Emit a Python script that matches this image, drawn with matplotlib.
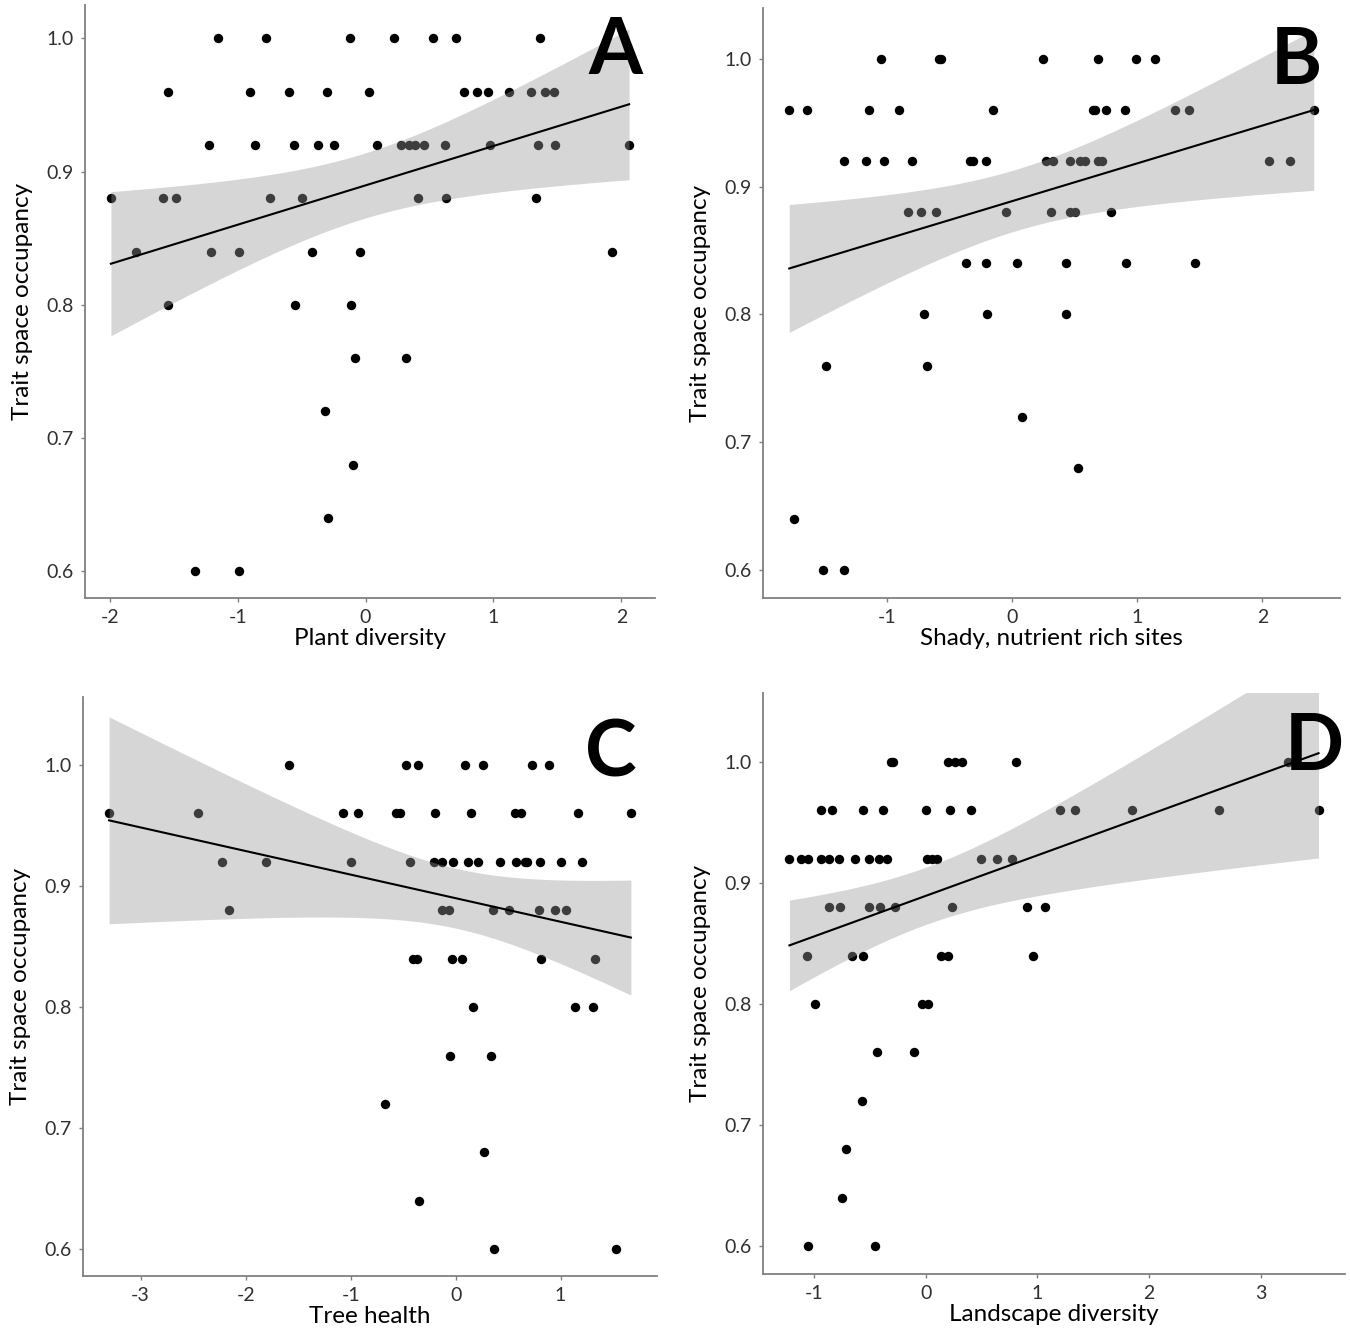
import numpy as np
import matplotlib
matplotlib.use("Agg")
import matplotlib.pyplot as plt

plt.rcParams['font.family'] = ['Lato', 'DejaVu Sans']

# panel A: plant diversity
a_x = [-1.15, -0.78, -0.12, 0.22, 0.53, 0.71, 1.36,
       -1.54, -0.90, -0.60, -0.30, 0.03, 0.77, 0.87, 0.96, 1.12, 1.29, 1.40, 1.47,
       -1.22, -0.86, -0.56, -0.37, -0.25, 0.09, 0.28, 0.34, 0.39, 0.46, 0.62, 0.97, 1.35, 1.48, 2.06,
       -1.99, -1.58, -1.48, -0.75, -0.50, 0.41, 0.63, 1.33,
       -1.79, -1.21, -0.99, -0.42, -0.04, 1.93,
       -1.54, -0.55, -0.11,
       -0.08, 0.32, -0.32, -0.10, -0.29, -1.33, -0.99]
a_y = [1.00] * 7 + [0.96] * 12 + [0.92] * 15 + [0.88] * 8 + [0.84] * 6 + [0.80] * 3 + \
      [0.76, 0.76, 0.72, 0.68, 0.64, 0.60, 0.60]

# panel B: shady, nutrient rich sites
b_x = [-1.05, -0.58, -0.57, 0.25, 0.69, 0.99, 1.14,
       -1.78, -1.64, -1.14, -0.90, -0.15, 0.65, 0.66, 0.75, 0.90, 1.30, 1.41, 2.41,
       -1.34, -1.17, -1.02, -0.80, -0.34, -0.31, -0.21, 0.27, 0.33, 0.46, 0.54, 0.58, 0.69, 0.72, 2.05, 2.22,
       -0.83, -0.73, -0.61, -0.05, 0.31, 0.46, 0.50, 0.79,
       -0.37, -0.21, 0.04, 0.43, 0.91, 1.46,
       -0.70, -0.20, 0.43,
       -1.49, -0.68, 0.08, 0.53, -1.74, -1.51, -1.34]
b_y = [1.00] * 7 + [0.96] * 12 + [0.92] * 16 + [0.88] * 8 + [0.84] * 6 + [0.80] * 3 + \
      [0.76, 0.76, 0.72, 0.68, 0.64, 0.60, 0.60]

# panel C: tree health
c_x = [-1.59, -0.47, -0.36, 0.09, 0.26, 0.73, 0.89,
       -3.30, -2.45, -1.07, -0.93, -0.57, -0.53, -0.20, 0.15, 0.57, 0.62, 1.17, 1.67,
       -2.22, -1.81, -1.00, -0.43, -0.21, -0.13, -0.02, 0.12, 0.21, 0.42, 0.58, 0.66, 0.68, 0.80, 1.00, 1.20,
       -2.16, -0.13, -0.06, 0.36, 0.51, 0.79, 0.95, 1.05,
       -0.41, -0.37, -0.03, 0.06, 0.81, 1.33,
       0.17, 1.14, 1.31,
       -0.05, 0.34, -0.67, 0.27, -0.35, 0.37, 1.53]
c_y = [1.00] * 7 + [0.96] * 12 + [0.92] * 16 + [0.88] * 8 + [0.84] * 6 + [0.80] * 3 + \
      [0.76, 0.76, 0.72, 0.68, 0.64, 0.60, 0.60]

# panel D: landscape diversity
d_x = [-0.31, -0.29, 0.20, 0.26, 0.33, 0.81, 3.25,
       -0.94, -0.84, -0.56, -0.38, 0.00, 0.22, 0.41, 1.20, 1.34, 1.85, 2.63, 3.52,
       -1.22, -1.12, -1.05, -0.94, -0.87, -0.78, -0.63, -0.51, -0.42, -0.35, 0.01, 0.06, 0.10, 0.50, 0.64, 0.77,
       -0.87, -0.77, -0.51, -0.41, -0.27, 0.24, 0.91, 1.07,
       -1.06, -0.66, -0.56, 0.14, 0.20, 0.96,
       -0.99, -0.03, 0.02,
       -0.44, -0.10, -0.57, -0.71, -0.75, -1.05, -0.45]
d_y = [1.00] * 7 + [0.96] * 12 + [0.92] * 16 + [0.88] * 8 + [0.84] * 6 + [0.80] * 3 + \
      [0.76, 0.76, 0.72, 0.68, 0.64, 0.60, 0.60]

panels = [
    ("A", a_x, a_y, "Plant diversity", [-2, -1, 0, 1, 2], (0.580, 1.025), (85, 655, 5, 598), (0.93, 0.92)),
    ("B", b_x, b_y, "Shady, nutrient rich sites", [-1, 0, 1, 2], (0.578, 1.040), (763, 1340, 8, 598), (0.925, 0.908)),
    ("C", c_x, c_y, "Tree health", [-3, -2, -1, 0, 1], (0.578, 1.056), (83, 657, 697, 1276), (0.92, 0.90)),
    ("D", d_x, d_y, "Landscape diversity", [-1, 0, 1, 2, 3], (0.577, 1.057), (763, 1345, 693, 1274), (0.947, 0.905)),
]

W, H = 1350, 1337
fig = plt.figure(figsize=(W / 100, H / 100), dpi=100)
T_CRIT = 2.0  # ~t(0.975, n-2) for about 60 sites

for letter, xs, ys, xlabel, xticks, ylim, box, lpos in panels:
    l, r, t, b = box
    ax = fig.add_axes([l / W, 1 - b / H, (r - l) / W, (b - t) / H])
    x = np.array(xs)
    y = np.array(ys)
    ax.scatter(x, y, s=46, color="black", linewidths=0, zorder=2)

    # linear fit with 95% confidence band (like geom_smooth(method="lm"))
    slope, icept = np.polyfit(x, y, 1)
    n = len(x)
    resid = y - (icept + slope * x)
    s = np.sqrt(np.sum(resid ** 2) / (n - 2))
    xm = x.mean()
    sxx = np.sum((x - xm) ** 2)
    xg = np.linspace(x.min(), x.max(), 80)
    yg = icept + slope * xg
    se = s * np.sqrt(1 / n + (xg - xm) ** 2 / sxx)
    ax.fill_between(xg, yg - T_CRIT * se, yg + T_CRIT * se, color="#999999", alpha=0.4,
                    linewidth=0, zorder=3)
    ax.plot(xg, yg, color="black", linewidth=1.5, zorder=4)

    span = x.max() - x.min()
    ax.set_xlim(x.min() - 0.05 * span, x.max() + 0.05 * span)
    ax.set_ylim(*ylim)
    ax.set_xticks(xticks)
    ax.set_xticklabels([str(v) for v in xticks])
    ax.set_yticks([0.6, 0.7, 0.8, 0.9, 1.0])
    ax.set_yticklabels(["0.6", "0.7", "0.8", "0.9", "1.0"])
    for side in ["top", "right"]:
        ax.spines[side].set_visible(False)
    for side in ["left", "bottom"]:
        ax.spines[side].set_color("#808080")
        ax.spines[side].set_linewidth(1.3)
    ax.tick_params(length=3, width=1, color="#808080", labelsize=14, labelcolor="#303030", pad=5)
    ax.set_xlabel(xlabel, fontsize=17.5, labelpad=1.5)
    ax.set_ylabel("Trait space occupancy", fontsize=17.5, labelpad=10)
    ax.text(lpos[0], lpos[1], letter, transform=ax.transAxes, ha="center", va="center",
            fontsize=56, fontweight="bold", zorder=6)

fig.savefig("out.png", dpi=100)
